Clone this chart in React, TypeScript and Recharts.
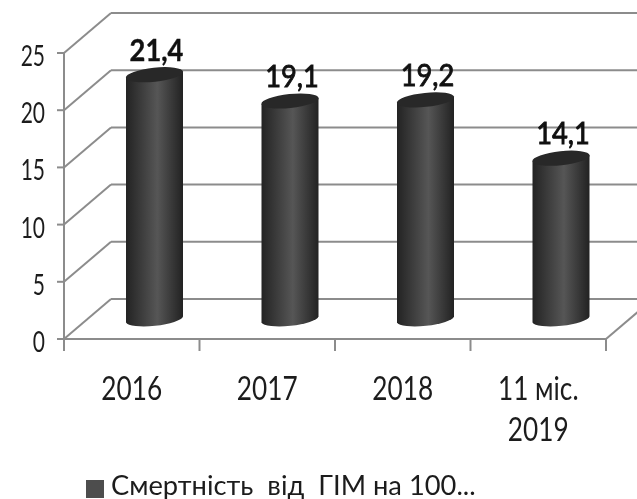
import { BarChart, Bar, XAxis, YAxis, CartesianGrid, Legend, LabelList } from "recharts"

const CATEGORIES = ["2016", "2017", "2018", "11 міс.\n2019"]
const VALUES = [21.4, 19.1, 19.2, 14.1]
const Y_TICKS = [0, 5, 10, 15, 20, 25]
const SERIES_NAME = "Смертність  від  ГІМ на 100..."

const FONT = "Lato, 'Open Sans', sans-serif"
const LINE = "#8c8c8c"
const TEXT = "#1c1c1c"
// 3d look: offset of back wall and of the cylinders
const DEPTH_X = 47
const DEPTH_Y = 40
const BAR_DX = 23
const BAR_DY = 19.5
const BAND = 135.5

const data = CATEGORIES.map((name, i) => ({ name, value: VALUES[i] }))

function Cylinder(props: any) {
  const { x, y, width, height } = props
  const left = x + BAR_DX
  const right = left + width
  const rx = width / 2 + 0.3
  const ry = 7
  const tilt = 3
  const top = y - BAR_DY
  const bottom = top + height
  const cx = left + width / 2
  return (
    <g>
      <path
        d={`M${left},${top + tilt} L${left},${bottom + tilt} A${rx},${ry} -6 0 0 ${right},${bottom - tilt} L${right},${top - tilt} Z`}
        fill="url(#cyl)"
      />
      <ellipse cx={cx} cy={top} rx={rx} ry={ry} transform={`rotate(-6 ${cx} ${top})`} fill="#282828" />
    </g>
  )
}

function GridLine(props: any) {
  const { x1, x2, y1, index } = props
  return (
    <g stroke={LINE} strokeWidth={2} fill="none">
      <line x1={x1} y1={y1} x2={x1 + DEPTH_X} y2={y1 - DEPTH_Y} />
      <line x1={x1 + DEPTH_X} y1={y1 - DEPTH_Y} x2={x2 + DEPTH_X} y2={y1 - DEPTH_Y} />
      {index === 0 && <line x1={x2} y1={y1} x2={x2 + DEPTH_X} y2={y1 - DEPTH_Y} />}
    </g>
  )
}

function CategoryTick(props: any) {
  const { x, y, index, payload } = props
  const lines = String(payload.value).split("\n")
  const top = y - 8 // recharts moves the tick below the axis line
  return (
    <g>
      <line x1={x - BAND / 2} y1={top} x2={x - BAND / 2} y2={top + 12} stroke={LINE} strokeWidth={2} />
      {index === CATEGORIES.length - 1 && (
        <line x1={x + BAND / 2} y1={top} x2={x + BAND / 2} y2={top + 12} stroke={LINE} strokeWidth={2} />
      )}
      {lines.map((line, i) => (
        <text
          key={i}
          transform={`translate(${x} ${top + 61 + i * 41}) scale(0.82 1)`}
          textAnchor="middle"
          fontFamily={FONT}
          fontSize={32}
          fill={TEXT}
        >
          {line}
        </text>
      ))}
    </g>
  )
}

function ValueTick(props: any) {
  const { x, y, payload } = props
  return (
    <text
      transform={`translate(${x} ${y + 13}) scale(0.75 1)`}
      textAnchor="end"
      fontFamily={FONT}
      fontSize={28}
      fill={TEXT}
    >
      {payload.value}
    </text>
  )
}

function ValueLabel(props: any) {
  const { x, y, width, value, index } = props
  return (
    <text
      transform={`translate(${x + width / 2 + BAR_DX + 2} ${y - BAR_DY - 14}) scale(0.88 1)`}
      textAnchor="middle"
      fontFamily={FONT}
      fontSize={31}
      fontWeight={index === 0 ? "bold" : "normal"}
      stroke="#111"
      strokeWidth={index === 0 ? 0.4 : 0.9}
      fill="#111"
    >
      {Number(value).toFixed(1).replace(".", ",")}
    </text>
  )
}

export default function App() {
  return (
    <div style={{ position: "fixed", left: 0, top: 0, width: 637, height: 499, filter: "blur(0.5px)" }}>
      <BarChart
        width={637}
        height={499}
        data={data}
        margin={{ top: 53, right: 31, bottom: 0, left: 0 }}
        barSize={57}
        style={{ overflow: "hidden" }}
      >
        <defs>
          <linearGradient id="cyl" x1="0" y1="0" x2="1" y2="0">
            <stop offset="0%" stopColor="#232323" />
            <stop offset="55%" stopColor="#565656" />
            <stop offset="100%" stopColor="#222222" />
          </linearGradient>
        </defs>
        <CartesianGrid horizontal={(p: any) => <GridLine key={p.index} {...p} />} vertical={false} />
        <XAxis
          dataKey="name"
          height={134}
          interval={0}
          tick={<CategoryTick />}
          tickLine={false}
          axisLine={{ stroke: LINE, strokeWidth: 2 }}
        />
        <YAxis
          domain={[0, 25]}
          ticks={Y_TICKS}
          width={64}
          tickSize={7}
          tickMargin={12}
          tick={<ValueTick />}
          tickLine={{ stroke: LINE, strokeWidth: 2 }}
          axisLine={{ stroke: LINE, strokeWidth: 2 }}
        />
        <Legend
          layout="horizontal"
          align="left"
          verticalAlign="bottom"
          iconType="square"
          iconSize={18}
          formatter={(v: string) => (
            <span
              style={{
                color: TEXT,
                fontFamily: FONT,
                fontSize: 26,
                lineHeight: "26px",
                whiteSpace: "pre",
                display: "inline-block",
                marginLeft: 3,
                transform: "translateY(2px) scaleX(1.05)",
                transformOrigin: "left center",
              }}
            >
              {v}
            </span>
          )}
          wrapperStyle={{ left: 86, top: 470, width: 500, height: 26, lineHeight: "26px" }}
        />
        <Bar dataKey="value" name={SERIES_NAME} fill="#4d4d4d" shape={<Cylinder />} isAnimationActive={false}>
          <LabelList dataKey="value" content={<ValueLabel />} />
        </Bar>
      </BarChart>
    </div>
  )
}
